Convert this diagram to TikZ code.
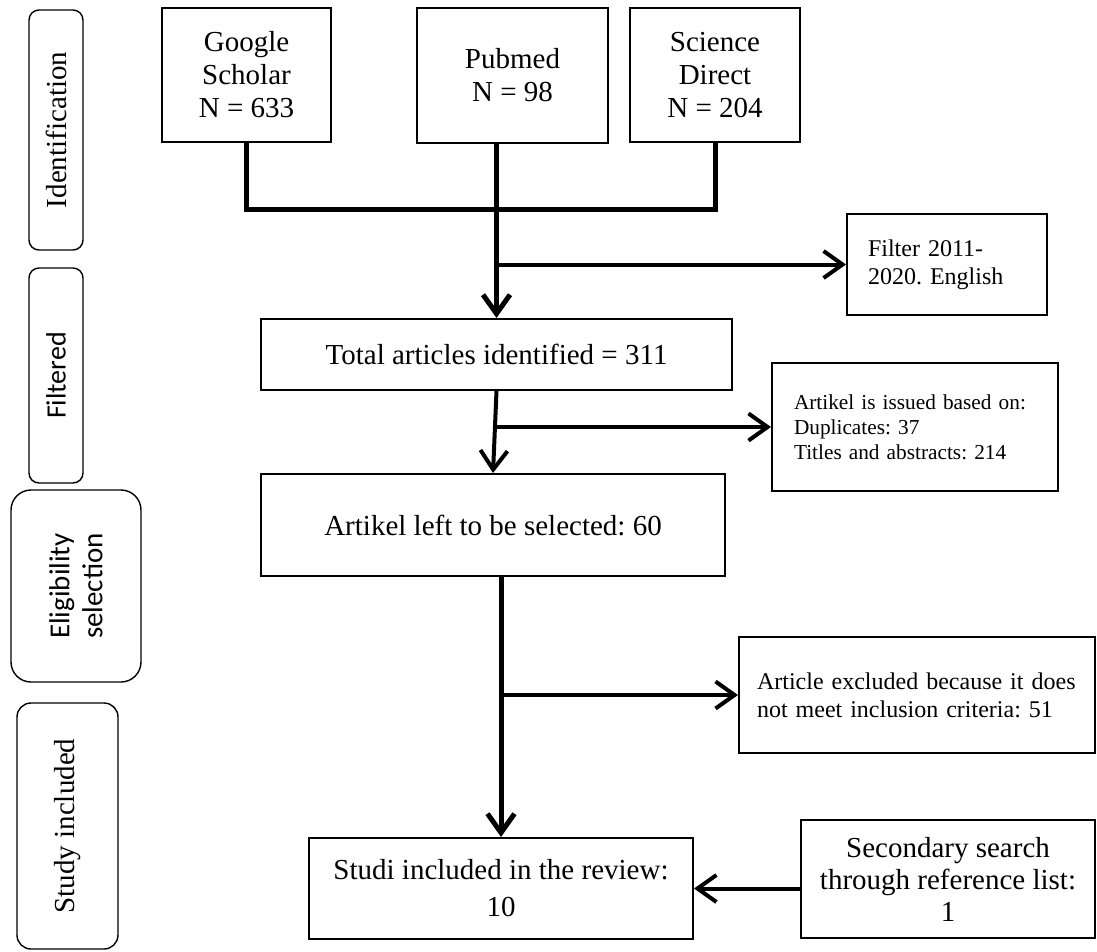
\documentclass[tikz,border=0pt]{standalone}
\usepackage{fontspec}
\setmainfont{Liberation Serif}
\newfontfamily\calibri{Carlito}
\usetikzlibrary{arrows.meta}
\frenchspacing

\tikzset{
	box/.style={draw, line width=2pt, inner sep=0pt, align=center, font=\fontsize{29}{33}\selectfont},
	phase/.style={draw, line width=1.4pt, rounded corners=10pt, rotate=90, inner sep=0pt, align=center, font=\fontsize{29}{33}\selectfont},
	trunk/.style={line width=5pt},
	branch/.style={line width=4pt},
	tip/.style={-{Straight Barb[length=19pt,width=27pt]}}
}

\begin{document}
\begin{tikzpicture}[x=1pt, y=-1pt]
		%%%%% START %%%%%
		\useasboundingbox (0,0) rectangle (1097,951);
		
		\node[phase, minimum width=240pt, minimum height=54pt] (Ident) at (56,130) {Identification};
		\node[phase, minimum width=215pt, minimum height=54pt, font=\calibri\fontsize{28}{33}\selectfont] (Filtered) at (56,375.5) {Filtered};
		\node[phase, minimum width=192pt, minimum height=130pt, rounded corners=20pt, font=\calibri\fontsize{29}{33}\selectfont] (Elig) at (76,586) {Eligibility\\selection};
		\node[phase, minimum width=246pt, minimum height=101pt, rounded corners=14pt] (Study) at (67.5,826) {Study included};
		
		\node[box, minimum width=169pt, minimum height=134pt] (Google) at (246.5,75) {Google\\Scholar\\N = 633};
		\node[box, minimum width=191pt, minimum height=135pt] (Pubmed) at (512.5,75.5) {Pubmed\\N = 98};
		\node[box, minimum width=170pt, minimum height=134pt] (Science) at (715,75) {Science\\Direct\\N = 204};
		
		\coordinate (bar) at (0,209);
		\draw[trunk] (Google.south) -- (Google.south |- bar) -- (Science.south |- bar) -- (Science.south);
		
		\node[box, minimum width=471pt, minimum height=71pt] (Total) at (496.5,354.5) {Total articles identified = 311};
		\draw[trunk, tip] (Total.north |- Pubmed.south) -- (Total.north);
		
		\node[box, text width=158pt, inner xsep=21pt, minimum height=101pt, align=left, font=\fontsize{24}{28}\selectfont] (Filter) at (947,264.5) {Filter 2011-\\2020. English};
		\draw[branch, tip] (Total.north |- Filter.west) -- (Filter.west);
		
		\node[box, text width=242pt, inner xsep=22pt, minimum height=128pt, align=left, font=\fontsize{21.3}{25}\selectfont] (Issued) at (915,427) {Artikel is issued based on:\\Duplicates: 37\\Titles and abstracts: 214};
		
		\node[box, minimum width=464pt, minimum height=102pt] (Artikel) at (493,525) {Artikel left to be selected: 60};
		\draw[branch, tip] (Total.south) -- (Artikel.north);
		\draw[branch, tip] (Total.south |- Issued.west) -- (Issued.west);
		
		\node[box, text width=330pt, inner xsep=13pt, minimum height=116pt, align=left, font=\fontsize{24}{28}\selectfont] (Excluded) at (917,695) {\hspace*{5pt}Article excluded because it does\\\hspace*{5pt}not meet inclusion criteria: 51};
		
		\node[box, minimum width=384pt, minimum height=101pt, font=\fontsize{29}{37}\selectfont] (Studi) at (501,888.5) {Studi included in the review:\\10};
		\draw[trunk, tip] (Studi.north |- Artikel.south) -- (Studi.north);
		\draw[branch, tip] (Studi.north |- Excluded.west) -- (Excluded.west);
		
		\node[box, minimum width=294pt, minimum height=118pt, font=\fontsize{29}{32}\selectfont] (Secondary) at (948,879) {Secondary search\\through reference list:\\1};
		\draw[branch, tip] (Secondary.west |- Studi.east) -- (Studi.east);
		
		%%%%% END %%%%%
\end{tikzpicture}
\end{document}
